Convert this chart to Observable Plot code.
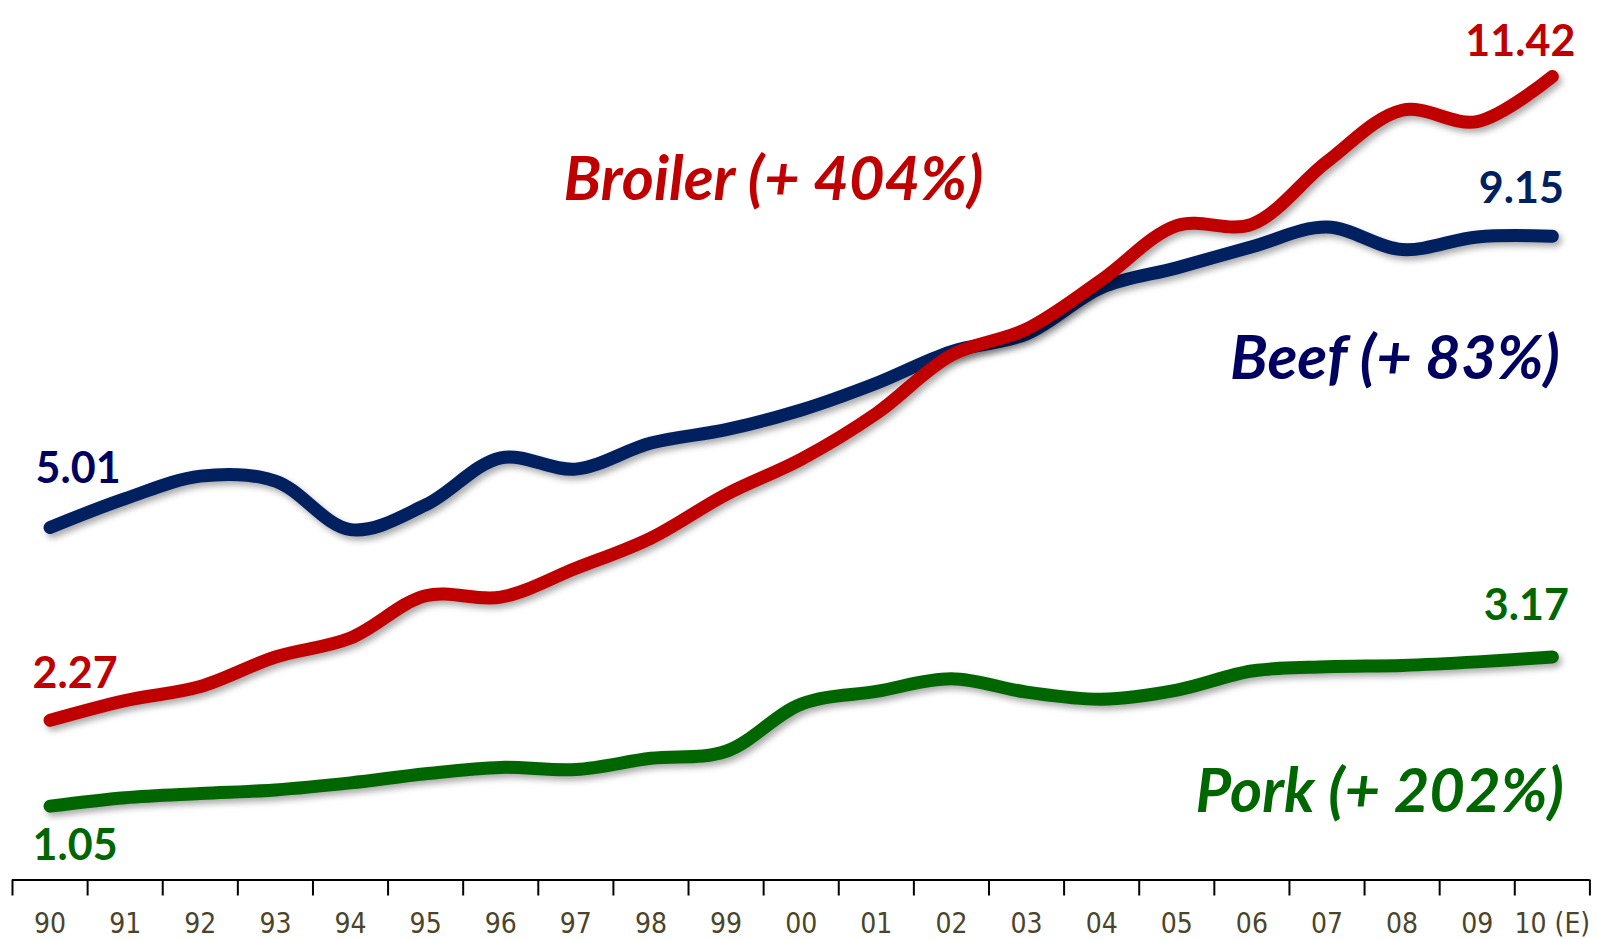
<!DOCTYPE html>
<html>
<head>
<meta charset="utf-8">
<script src="https://cdn.jsdelivr.net/npm/d3@7"></script>
<script src="https://cdn.jsdelivr.net/npm/@observablehq/plot@0.6"></script>
<style>
  html, body { margin: 0; padding: 0; background: #ffffff; }
  #chart svg { display: block; }
</style>
</head>
<body>
<div id="chart"></div>
<script>
// ---- data ----
const years = ["90","91","92","93","94","95","96","97","98","99","00","01","02","03","04","05","06","07","08","09","10 (E)"];
const beef    = [5.01, 5.42, 5.74, 5.67, 4.98, 5.33, 6.00, 5.84, 6.21, 6.40, 6.68, 7.06, 7.51, 7.76, 8.42, 8.70, 9.00, 9.28, 8.96, 9.14, 9.15];
const broiler = [2.27, 2.55, 2.75, 3.17, 3.44, 4.04, 4.02, 4.43, 4.86, 5.48, 5.98, 6.63, 7.46, 7.83, 8.53, 9.30, 9.32, 10.21, 10.94, 10.78, 11.42];
const pork    = [1.05, 1.17, 1.23, 1.28, 1.38, 1.51, 1.60, 1.57, 1.73, 1.83, 2.50, 2.68, 2.86, 2.67, 2.57, 2.70, 2.97, 3.03, 3.05, 3.10, 3.17];
const seriesNames = ["Pork", "Beef", "Broiler"];
const seriesLabels = ["Pork (+ 202%)", "Beef (+ 83%)", "Broiler (+ 404%)"];

const seriesValues = {Pork: pork, Beef: beef, Broiler: broiler};
const lineColor = {Pork: "#006600", Beef: "#002060", Broiler: "#c00000"};
const labelColor = {Pork: "#006600", Beef: "#000060", Broiler: "#c00000"};

const rows = seriesNames.flatMap(s => seriesValues[s].map((v, i) => ({series: s, i, value: v})));
const n = years.length;
const firsts = seriesNames.map(s => ({series: s, i: 0, value: seriesValues[s][0]}));
const lasts = seriesNames.map(s => ({series: s, i: n - 1, value: seriesValues[s][n - 1]}));
const fmt = d3.format(".2f");

const startOff = {Beef: [28, -44], Broiler: [25, -32], Pork: [25, 54]};
const endOff = {Broiler: [-32, -20], Beef: [-31, -33], Pork: [-26, -37]};

const numFont = "Lato, 'Open Sans', sans-serif";

const marks = [
  Plot.ruleY([0], {stroke: "#000", strokeWidth: 2}),
  Plot.axisX({ticks: d3.range(-0.5, n + 0.5, 1), tickSize: 16, stroke: "#000", strokeWidth: 2, tickFormat: () => "", label: null}),
  Plot.axisX({ticks: d3.range(0, n), tickSize: 0, tickPadding: 33, tickFormat: i => years[i], label: null,
              fill: "#4a452a", fontSize: 28, fontFamily: "'Liberation Sans Narrow', 'DejaVu Sans Condensed', sans-serif"}),
  Plot.line(rows, {x: "i", y: "value", z: "series", stroke: d => lineColor[d.series], strokeWidth: 13,
                   strokeLinecap: "round", strokeLinejoin: "round", curve: "catmull-rom"})
];

for (const s of seriesNames) {
  marks.push(Plot.text(firsts.filter(d => d.series === s), {
    x: "i", y: "value", text: d => fmt(d.value), fill: labelColor[s],
    dx: startOff[s][0], dy: startOff[s][1], lineAnchor: "bottom", textAnchor: "middle",
    fontSize: 43, fontWeight: "bold", fontFamily: numFont
  }));
  marks.push(Plot.text(lasts.filter(d => d.series === s), {
    x: "i", y: "value", text: d => fmt(d.value), fill: lineColor[s],
    dx: endOff[s][0], dy: endOff[s][1], lineAnchor: "bottom", textAnchor: "middle",
    fontSize: 43, fontWeight: "bold", fontFamily: numFont
  }));
}

// series name labels
const bigFont = {fontSize: 61.5, fontWeight: "bold", fontStyle: "italic", fontFamily: numFont, lineAnchor: "bottom"};
marks.push(Plot.text([seriesLabels[2]], {frameAnchor: "top-left", textAnchor: "start", dx: 551, dy: 199, fill: labelColor.Broiler, ...bigFont}));
marks.push(Plot.text([seriesLabels[1]], {frameAnchor: "top-right", textAnchor: "end", dx: -30, dy: 378, fill: labelColor.Beef, ...bigFont}));
marks.push(Plot.text([seriesLabels[0]], {frameAnchor: "top-right", textAnchor: "end", dx: -26, dy: 811, fill: labelColor.Pork, ...bigFont}));

const chart = Plot.plot({
  width: 1598,
  height: 939,
  marginTop: 0,
  marginBottom: 59.5,
  marginLeft: 12,
  marginRight: 8.6,
  x: {domain: [-0.5, n - 0.5], axis: null},
  y: {domain: [0, 12.5], axis: null},
  style: {background: "#ffffff", overflow: "visible"},
  marks
});

d3.select(chart).selectAll('g[aria-label="line"] path')
  .style("filter", "drop-shadow(3px 4px 3px rgba(0,0,0,0.33))");

document.getElementById("chart").appendChild(chart);
</script>
</body>
</html>
